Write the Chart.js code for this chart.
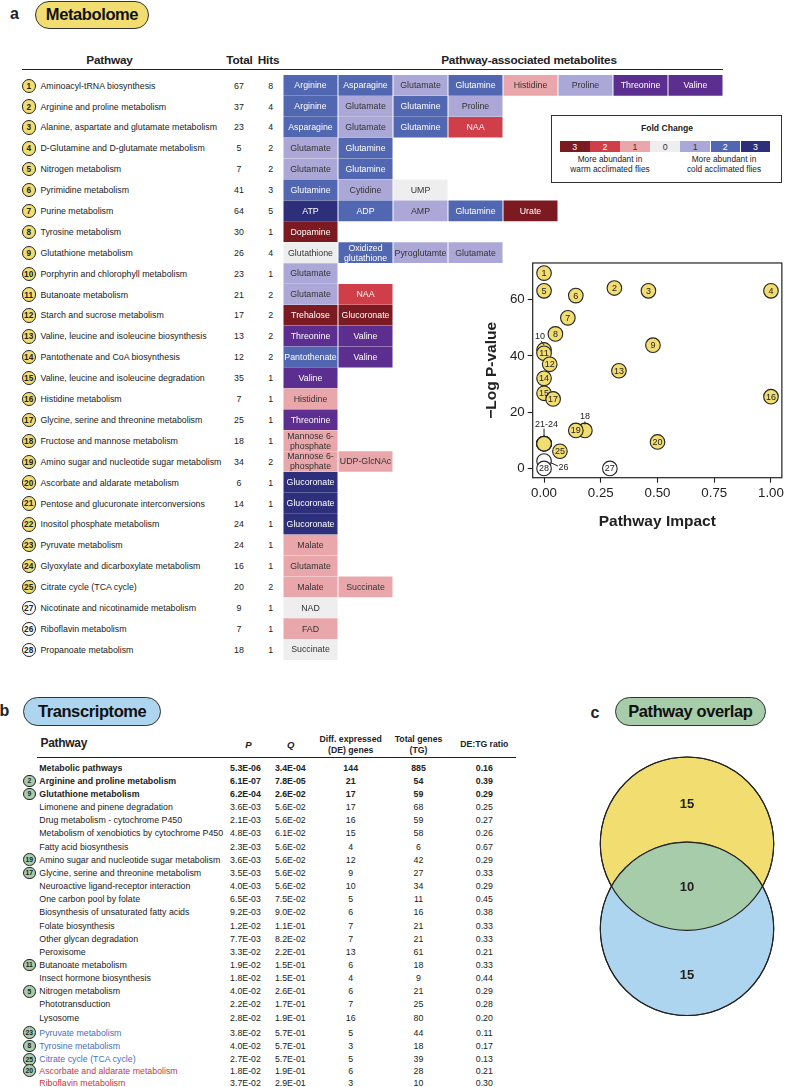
<!DOCTYPE html>
<html>
<head>
<meta charset="utf-8">
<script src="https://cdn.jsdelivr.net/npm/chart.js@4.4.1/dist/chart.umd.min.js"></script>
<style>
html, body { margin: 0; padding: 0; background: #fff; }
#page { position: relative; width: 787px; height: 1087px; overflow: hidden;
        font-family: "Liberation Sans", Arial, sans-serif; color: #222; }
.t { position: absolute; white-space: nowrap; line-height: 1; }
.pill { position: absolute; box-sizing: border-box; border: 1.5px solid #333; border-radius: 15px;
        display: flex; align-items: center; justify-content: center;
        font-weight: bold; font-size: 16.5px; letter-spacing: -0.4px; color: #111; }
.dot { position: absolute; box-sizing: border-box; border-radius: 50%; border: 1.3px solid #222;
       display: flex; align-items: center; justify-content: center; font-weight: bold; color: #222; }
canvas { position: absolute; }
</style>
</head>
<body>
<div id="page">
  <canvas id="cells" width="440" height="585" style="left:283px;top:75px"></canvas>
  <canvas id="impact" width="309" height="283" style="left:478px;top:252px"></canvas>
  <canvas id="venn" width="194" height="275" style="left:590px;top:750px"></canvas>
</div>

<script>
// ========== DATA: METABOLOME ==========
const pathwayIds = [1, 2, 3, 4, 5, 6, 7, 8, 9, 10, 11, 12, 13, 14, 15, 16, 17, 18, 19, 20, 21, 22, 23, 24, 25, 27, 26, 28];
const pathwayNames = [
    "Aminoacyl-tRNA biosynthesis",
    "Arginine and proline metabolism",
    "Alanine, aspartate and glutamate metabolism",
    "D-Glutamine and D-glutamate metabolism",
    "Nitrogen metabolism",
    "Pyrimidine metabolism",
    "Purine metabolism",
    "Tyrosine metabolism",
    "Glutathione metabolism",
    "Porphyrin and chlorophyll metabolism",
    "Butanoate metabolism",
    "Starch and sucrose metabolism",
    "Valine, leucine and isoleucine biosynthesis",
    "Pantothenate and CoA biosynthesis",
    "Valine, leucine and isoleucine degradation",
    "Histidine metabolism",
    "Glycine, serine and threonine metabolism",
    "Fructose and mannose metabolism",
    "Amino sugar and nucleotide sugar metabolism",
    "Ascorbate and aldarate metabolism",
    "Pentose and glucuronate interconversions",
    "Inositol phosphate metabolism",
    "Pyruvate metabolism",
    "Glyoxylate and dicarboxylate metabolism",
    "Citrate cycle (TCA cycle)",
    "Nicotinate and nicotinamide metabolism",
    "Riboflavin metabolism",
    "Propanoate metabolism"
];
const totalCompounds = [67, 37, 23, 5, 7, 41, 64, 30, 26, 23, 21, 17, 13, 12, 35, 7, 25, 18, 34, 6, 14, 24, 24, 16, 20, 9, 7, 18];
const hitCounts = [8, 4, 4, 2, 2, 3, 5, 1, 4, 1, 2, 2, 2, 2, 1, 1, 1, 1, 2, 1, 1, 1, 1, 1, 2, 1, 1, 1];

const metabolites = [
    ["Arginine", "Asparagine", "Glutamate", "Glutamine", "Histidine", "Proline", "Threonine", "Valine"],
    ["Arginine", "Glutamate", "Glutamine", "Proline"],
    ["Asparagine", "Glutamate", "Glutamine", "NAA"],
    ["Glutamate", "Glutamine"],
    ["Glutamate", "Glutamine"],
    ["Glutamine", "Cytidine", "UMP"],
    ["ATP", "ADP", "AMP", "Glutamine", "Urate"],
    ["Dopamine"],
    ["Glutathione", "Oxidized\nglutathione", "Pyroglutamte", "Glutamate"],
    ["Glutamate"],
    ["Glutamate", "NAA"],
    ["Trehalose", "Glucoronate"],
    ["Threonine", "Valine"],
    ["Pantothenate", "Valine"],
    ["Valine"],
    ["Histidine"],
    ["Threonine"],
    ["Mannose 6-\nphosphate"],
    ["Mannose 6-\nphosphate", "UDP-GlcNAc"],
    ["Glucoronate"],
    ["Glucoronate"],
    ["Glucoronate"],
    ["Malate"],
    ["Glutamate"],
    ["Malate", "Succinate"],
    ["NAD"],
    ["FAD"],
    ["Succinate"]
];
// fold change class: w = warm, c = cold, 0 = no change, P = purple cells
const foldCodes = [
    ["c2", "c2", "c1", "c2", "w1", "c1", "P", "P"],
    ["c2", "c1", "c2", "c1"],
    ["c2", "c1", "c2", "w2"],
    ["c1", "c2"],
    ["c1", "c2"],
    ["c2", "c1", "0"],
    ["c3", "c2", "c1", "c2", "w3"],
    ["w3"],
    ["0", "c2", "c1", "c1"],
    ["c1"],
    ["c1", "w2"],
    ["w3", "w3"],
    ["P", "P"],
    ["c2", "P"],
    ["P"],
    ["w1"],
    ["P"],
    ["w1"],
    ["w1", "w1"],
    ["c3"],
    ["c3"],
    ["c3"],
    ["w1"],
    ["w1"],
    ["w1", "w1"],
    ["0"],
    ["w1"],
    ["0"]
];

const legendCodes = ["w3", "w2", "w1", "0", "c1", "c2", "c3"];
const legendLabels = ["3", "2", "1", "0", "1", "2", "3"];

// ========== DATA: PATHWAY IMPACT ==========
const impactIds = [1, 2, 3, 4, 5, 6, 7, 8, 9, 10, 11, 12, 13, 14, 15, 16, 17, 18, 19, 20, 21, 22, 23, 24, 25, 26, 27, 28];
const impactX = [0, 0.31, 0.46, 1, 0, 0.14, 0.105, 0.05, 0.48, 0, 0, 0.025, 0.33, 0, 0, 1, 0.04, 0.18, 0.14, 0.5, 0, 0, 0, 0, 0.07, 0, 0.29, 0];
const logP = [69.4, 64.1, 63.1, 63.1, 63.1, 61.4, 53.5, 47.8, 43.8, 42.1, 40.9, 37.0, 34.7, 32.0, 26.7, 25.5, 24.7, 13.5, 13.5, 9.4, 8.8, 8.8, 8.8, 8.8, 6.1, 2.6, 0, 0];
const xTicks = [0, 0.25, 0.5, 0.75, 1];
const yTicks = [0, 20, 40, 60];

// ========== DATA: TRANSCRIPTOME ==========
const txPathways = [
    "Metabolic pathways",
    "Arginine and proline metabolism",
    "Glutathione metabolism",
    "Limonene and pinene degradation",
    "Drug metabolism - cytochrome P450",
    "Metabolism of xenobiotics by cytochrome P450",
    "Fatty acid biosynthesis",
    "Amino sugar and nucleotide sugar metabolism",
    "Glycine, serine and threonine metabolism",
    "Neuroactive ligand-receptor interaction",
    "One carbon pool by folate",
    "Biosynthesis of unsaturated fatty acids",
    "Folate biosynthesis",
    "Other glycan degradation",
    "Peroxisome",
    "Butanoate metabolism",
    "Insect hormone biosynthesis",
    "Nitrogen metabolism",
    "Phototransduction",
    "Lysosome",
    "Pyruvate metabolism",
    "Tyrosine metabolism",
    "Citrate cycle (TCA cycle)",
    "Ascorbate and aldarate metabolism",
    "Riboflavin metabolism"
];
const txMetabIds = [null, 2, 9, null, null, null, null, 19, 17, null, null, null, null, null, null, 11, null, 5, null, null, 23, 8, 25, 20, null];
const txP = ["5.3E-06", "6.1E-07", "6.2E-04", "3.6E-03", "2.1E-03", "4.8E-03", "2.3E-03", "3.6E-03", "3.5E-03", "4.0E-03", "6.5E-03", "9.2E-03", "1.2E-02", "7.7E-03", "3.3E-02", "1.9E-02", "1.8E-02", "4.0E-02", "2.2E-02", "2.8E-02", "3.8E-02", "4.0E-02", "2.7E-02", "1.8E-02", "3.7E-02"];
const txQ = ["3.4E-04", "7.8E-05", "2.6E-02", "5.6E-02", "5.6E-02", "6.1E-02", "5.6E-02", "5.6E-02", "5.6E-02", "5.6E-02", "7.5E-02", "9.0E-02", "1.1E-01", "8.2E-02", "2.2E-01", "1.5E-01", "1.5E-01", "2.6E-01", "1.7E-01", "1.9E-01", "5.7E-01", "5.7E-01", "5.7E-01", "1.9E-01", "2.9E-01"];
const txDE = [144, 21, 17, 17, 16, 15, 4, 12, 9, 10, 5, 6, 7, 7, 13, 6, 4, 6, 7, 16, 5, 3, 5, 6, 3];
const txTG = [885, 54, 59, 68, 59, 58, 6, 42, 27, 34, 11, 16, 21, 21, 61, 18, 9, 21, 25, 80, 44, 18, 39, 28, 10];
const txRatio = ["0.16", "0.39", "0.29", "0.25", "0.27", "0.26", "0.67", "0.29", "0.33", "0.29", "0.45", "0.38", "0.33", "0.33", "0.21", "0.33", "0.44", "0.29", "0.28", "0.20", "0.11", "0.17", "0.13", "0.21", "0.30"];
const txGroup = ["sig", "sig", "sig", "", "", "", "", "", "", "", "", "", "", "", "", "", "", "", "", "", "blue", "blue", "blue", "red", "red"];

// ========== DATA: OVERLAP ==========
const vennCounts = [15, 10, 15];

// ========== STYLE ==========
const FONT = '"Liberation Sans", Arial, sans-serif';
const YELLOW = "#f1dd70";
const BLUE = "#aed5ef";
const GREEN = "#a7cca9";
const CODE_COLOR = {
    w3: "#7b1b21", w2: "#d03f49", w1: "#e9a7ab", "0": "#eeeeee",
    c1: "#aba8d7", c2: "#5267b2", c3: "#2d2f7b", P: "#5c2e8f"
};
const DARK_CODES = new Set(["w3", "w2", "c2", "c3", "P"]);

Chart.defaults.font.family = FONT;
Chart.defaults.color = "#222";

const page = document.getElementById("page");

function put(text, x, y, css, anchor) {
    const d = document.createElement("div");
    d.className = "t";
    d.textContent = text;
    const ax = anchor === "c" ? "-50%" : anchor === "r" ? "-100%" : "0";
    d.style.cssText = `left:${x}px;top:${y}px;transform:translate(${ax},-50%);` + (css || "");
    page.appendChild(d);
    return d;
}

function box(x, y, w, h, css) {
    const d = document.createElement("div");
    d.style.cssText = `position:absolute;left:${x}px;top:${y}px;width:${w}px;height:${h}px;` + (css || "");
    page.appendChild(d);
    return d;
}

function dot(label, cx, cy, r, fill, size) {
    const d = box(cx - r, cy - r, 2 * r, 2 * r, `background:${fill};font-size:${size}px;`);
    d.className = "dot";
    d.textContent = label;
}

function pill(text, x, y, w, h, fill) {
    const d = box(x, y, w, h, `background:${fill};`);
    d.className = "pill";
    d.textContent = text;
}


// ========== PANEL A: TABLE TEXT ==========
put("a", 14.5, 14, "font-size:16px;font-weight:bold;", "c");
pill("Metabolome", 35, 1, 114, 27.5, YELLOW);

const hdr = "font-size:11.8px;font-weight:bold;letter-spacing:-0.2px;";
put("Pathway", 109.5, 61, hdr, "c");
put("Total", 239.5, 61, hdr, "c");
put("Hits", 268.5, 61, hdr, "c");
put("Pathway-associated metabolites", 529, 61, hdr, "c");
box(21.7, 68.6, 701, 1.5, "background:#222;");

pathwayIds.forEach((id, i) => {
    const y = 85.7 + 20.89 * i;
    dot(String(id), 28.7, y, 7.2, id > 25 ? "#fff" : YELLOW, 8.3);
    put(pathwayNames[i], 40.5, y, "font-size:8.8px;");
    put(String(totalCompounds[i]), 239, y, "font-size:8.8px;", "c");
    put(String(hitCounts[i]), 270.7, y, "font-size:8.8px;", "c");
});

// ========== FOLD CHANGE LEGEND ==========
box(551, 115, 231, 68, "box-sizing:border-box;border:1.3px solid #333;background:#fff;");
put("Fold Change", 667, 127.7, "font-size:8.6px;font-weight:bold;", "c");
legendCodes.forEach((code, k) => {
    const x = 560 + 30.1 * k;
    box(x, 141, 29.5, 10.7, `background:${CODE_COLOR[code]};`);
    put(legendLabels[k], x + 14.8, 146.5,
        `font-size:8.8px;color:${DARK_CODES.has(code) ? "#fff" : "#333"};`, "c");
});
put("More abundant in", 610, 159.3, "font-size:8.3px;", "c");
put("warm acclimated flies", 610, 169.3, "font-size:8.3px;", "c");
put("More abundant in", 724, 159.3, "font-size:8.3px;", "c");
put("cold acclimated flies", 724, 169.3, "font-size:8.3px;", "c");


// ========== PANEL A: METABOLITE CELLS ==========
const maxCols = 8;
const cellDatasets = [];
for (let k = 0; k < maxCols; k++) {
    cellDatasets.push({
        data: metabolites.map(row => row[k] ? [k + 0.015, k + 0.985] : null),
        backgroundColor: foldCodes.map(row => row[k] ? CODE_COLOR[row[k]] : "transparent"),
        barThickness: 20,
        borderWidth: 0
    });
}

const cellText = {
    id: "cellText",
    afterDatasetsDraw(chart) {
        const ctx = chart.ctx;
        ctx.save();
        ctx.font = `8.8px ${FONT}`;
        ctx.textAlign = "center";
        ctx.textBaseline = "middle";
        chart.data.datasets.forEach((ds, k) => {
            chart.getDatasetMeta(k).data.forEach((el, i) => {
                const name = metabolites[i][k];
                if (!name) return;
                const lines = name.split("\n");
                const cx = (el.x + el.base) / 2;
                ctx.fillStyle = DARK_CODES.has(foldCodes[i][k]) ? "#fff" : "#333";
                lines.forEach((ln, j) => {
                    ctx.fillText(ln, cx, el.y + 0.5 + (j - (lines.length - 1) / 2) * 10);
                });
            });
        });
        ctx.restore();
    }
};

new Chart(document.getElementById("cells"), {
    type: "bar",
    data: { labels: pathwayIds.map(String), datasets: cellDatasets },
    options: {
        indexAxis: "y",
        responsive: false,
        animation: false,
        events: [],
        layout: { padding: 0 },
        plugins: { legend: { display: false }, tooltip: { enabled: false } },
        scales: {
            x: { display: false, min: 0, max: maxCols },
            y: { display: false, stacked: true }
        }
    },
    plugins: [cellText]
});


// ========== PANEL A: PATHWAY IMPACT ==========
const insideSkip = new Set([10, 18, 21, 22, 23, 24, 26]);
const callouts = [
    { text: "10", id: 10, dx: -4, dy: -13, l: [-3, -9, 0, -5] },
    { text: "18", id: 18, dx: 0, dy: -13.5, l: [0, -9, 0, -6] },
    { text: "21-24", id: 21, dx: 2.5, dy: -19.5, l: [0, -15, 0, -6.5] },
    { text: "26", id: 26, dx: 19.5, dy: 6.3, l: [6.5, 1.5, 14, 5] }
];

const frame = {
    id: "frame",
    beforeDatasetsDraw(chart) {
        const { ctx, chartArea: a } = chart;
        ctx.save();
        ctx.strokeStyle = "#222";
        ctx.lineWidth = 1.2;
        ctx.strokeRect(a.left, a.top, a.right - a.left, a.bottom - a.top);
        ctx.restore();
    }
};

const bubbleText = {
    id: "bubbleText",
    afterDatasetsDraw(chart) {
        const ctx = chart.ctx;
        const pts = chart.getDatasetMeta(0).data;
        ctx.save();
        ctx.font = `9px ${FONT}`;
        ctx.textAlign = "center";
        ctx.textBaseline = "middle";
        ctx.fillStyle = "#222";
        pts.forEach((p, i) => {
            const id = impactIds[i];
            if (insideSkip.has(id)) return;
            ctx.fillText(String(id), p.x, p.y + 0.5);
        });
        ctx.strokeStyle = "#222";
        ctx.lineWidth = 1;
        callouts.forEach(c => {
            const p = pts[impactIds.indexOf(c.id)];
            ctx.fillText(c.text, p.x + c.dx, p.y + c.dy);
            ctx.beginPath();
            ctx.moveTo(p.x + c.l[0], p.y + c.l[1]);
            ctx.lineTo(p.x + c.l[2], p.y + c.l[3]);
            ctx.stroke();
        });
        ctx.restore();
    }
};

const tickFont = { size: 13.3 };
const titleFont = { size: 15.5, weight: "bold" };
const tickGrid = { display: true, drawOnChartArea: false, drawTicks: true, tickLength: 5, tickColor: "#222", tickWidth: 1.1 };

new Chart(document.getElementById("impact"), {
    type: "scatter",
    data: {
        datasets: [{
            data: impactX.map((x, i) => ({ x, y: logP[i] })),
            pointRadius: 7.3,
            pointHoverRadius: 7.3,
            pointBackgroundColor: impactIds.map(id => id > 25 ? "#fff" : YELLOW),
            pointBorderColor: "#222",
            pointBorderWidth: 1.1,
            clip: false
        }]
    },
    options: {
        responsive: false,
        animation: false,
        events: [],
        layout: { autoPadding: false, padding: { top: 9.7, right: 2, left: 0, bottom: 0 } },
        plugins: { legend: { display: false }, tooltip: { enabled: false } },
        scales: {
            x: {
                type: "linear", min: -0.05, max: 1.048,
                afterBuildTicks: s => { s.ticks = xTicks.map(v => ({ value: v })); },
                afterFit: s => { s.height = 57.3; },
                ticks: { font: tickFont, color: "#222", padding: 3, maxRotation: 0, callback: v => v.toFixed(2) },
                grid: tickGrid,
                border: { display: false },
                title: { display: true, text: "Pathway Impact", font: titleFont, color: "#222", padding: { top: 0, bottom: 4 } }
            },
            y: {
                type: "linear", min: -3.3, max: 73,
                afterBuildTicks: s => { s.ticks = yTicks.map(v => ({ value: v })); },
                afterFit: s => { s.width = 54.7; },
                ticks: { font: tickFont, color: "#222", padding: 3 },
                grid: tickGrid,
                border: { display: false },
                title: { display: true, text: "\u2212Log P-value", font: titleFont, color: "#222", padding: { top: 4, bottom: 0 } }
            }
        }
    },
    plugins: [frame, bubbleText]
});


// ========== PANEL B: TRANSCRIPTOME ==========
put("b", 4.5, 711, "font-size:16px;font-weight:bold;", "c");
pill("Transcriptome", 23.3, 697.3, 137.7, 28.4, BLUE);

const th = "font-size:8.7px;font-weight:bold;";
put("Pathway", 40.5, 743.3, "font-size:12px;font-weight:bold;letter-spacing:-0.3px;");
put("P", 248.3, 745, "font-size:9.5px;font-weight:bold;font-style:italic;", "c");
put("Q", 290.7, 745, "font-size:9.5px;font-weight:bold;font-style:italic;", "c");
put("Diff. expressed", 350.7, 739.3, th, "c");
put("(DE) genes", 350.7, 750, th, "c");
put("Total genes", 418.5, 739.3, th, "c");
put("(TG)", 418.5, 750, th, "c");
put("DE:TG ratio", 484.3, 744.3, th, "c");
box(36.7, 756.6, 479.3, 1.5, "background:#222;");

function txRowY(i) {
    if (i < 20) return 767.7 + 13.15 * i;
    if (i < 23) return 1032.7 + 13.3 * (i - 20);
    return 1070.7 + 12.6 * (i - 23);
}

const groupColor = { blue: "#4a6fc1", red: "#c23b3d" };

txPathways.forEach((name, i) => {
    const y = txRowY(i);
    const g = txGroup[i];
    const base = "font-size:8.8px;" + (g === "sig" ? "font-weight:bold;" : "");
    if (txMetabIds[i] !== null) dot(String(txMetabIds[i]), 29.3, y, 6.3, GREEN, 6.8);
    put(name, 39.3, y, base + (groupColor[g] ? `color:${groupColor[g]};` : ""));
    put(txP[i], 245.5, y, base, "c");
    put(txQ[i], 290.3, y, base, "c");
    put(String(txDE[i]), 350.7, y, base, "c");
    put(String(txTG[i]), 418.5, y, base, "c");
    put(txRatio[i], 484.3, y, base, "c");
});


// ========== PANEL C: OVERLAP ==========
put("c", 595, 713.3, "font-size:16px;font-weight:bold;", "c");
pill("Pathway overlap", 615, 697.3, 150.7, 28.7, GREEN);

const vennOverlap = {
    id: "vennOverlap",
    afterDatasetsDraw(chart) {
        const ctx = chart.ctx;
        const [a, b] = chart.getDatasetMeta(0).data;
        const r = a.options.radius;
        ctx.save();
        ctx.beginPath();
        ctx.arc(a.x, a.y, r, 0, Math.PI * 2);
        ctx.clip();
        ctx.beginPath();
        ctx.arc(b.x, b.y, r, 0, Math.PI * 2);
        ctx.fillStyle = GREEN;
        ctx.fill();
        ctx.restore();

        ctx.save();
        ctx.strokeStyle = "#222";
        ctx.lineWidth = 1.1;
        [a, b].forEach(p => {
            ctx.beginPath();
            ctx.arc(p.x, p.y, r, 0, Math.PI * 2);
            ctx.stroke();
        });
        ctx.font = `bold 13px ${FONT}`;
        ctx.fillStyle = "#222";
        ctx.textAlign = "center";
        ctx.textBaseline = "middle";
        ctx.fillText(String(vennCounts[0]), a.x, (a.y - r + b.y - r) / 2 + 5);
        ctx.fillText(String(vennCounts[1]), a.x, (b.y - r + a.y + r) / 2 + 1);
        ctx.fillText(String(vennCounts[2]), a.x, (a.y + r + b.y + r) / 2 + 2);
        ctx.restore();
    }
};

new Chart(document.getElementById("venn"), {
    type: "scatter",
    data: {
        datasets: [{
            data: [{ x: 0, y: 1 }, { x: 0, y: 0 }],
            pointRadius: 86.7,
            pointHoverRadius: 86.7,
            pointBackgroundColor: [YELLOW, BLUE],
            pointBorderColor: "#222",
            pointBorderWidth: 1.1,
            clip: false
        }]
    },
    options: {
        responsive: false,
        animation: false,
        events: [],
        layout: { autoPadding: false, padding: 0 },
        plugins: { legend: { display: false }, tooltip: { enabled: false } },
        scales: {
            x: { display: false, min: -1, max: 1 },
            y: { display: false, min: -1.13, max: 2.1 }
        }
    },
    plugins: [vennOverlap]
});
</script>
</body>
</html>
